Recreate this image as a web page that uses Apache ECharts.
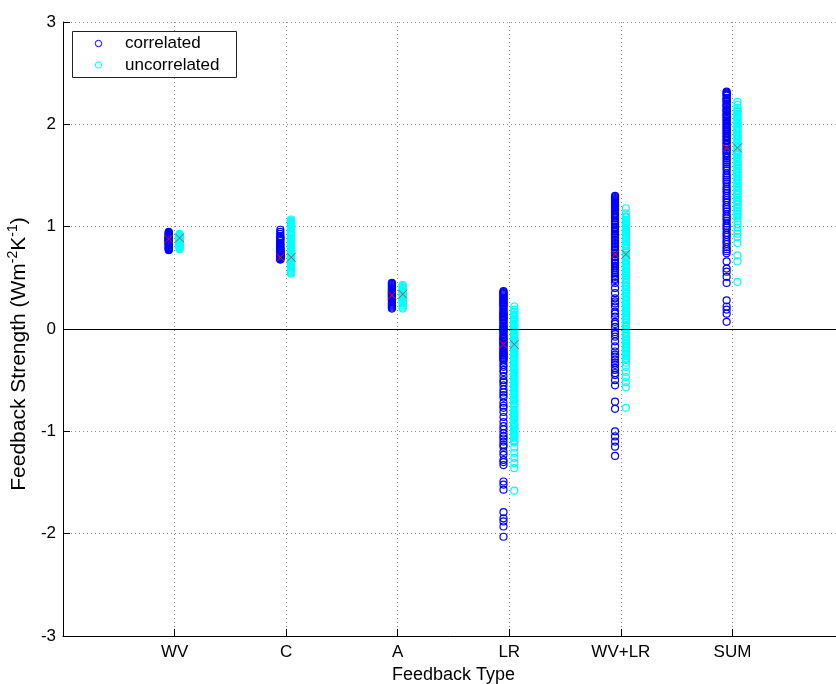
<!DOCTYPE html>
<html>
<head>
<meta charset="utf-8">
<script src="https://cdn.jsdelivr.net/npm/echarts@6/dist/echarts.min.js"></script>
<style>
  html, body { margin: 0; padding: 0; background: #fff; }
  #chart { width: 836px; height: 684px; }
</style>
</head>
<body>
<div id="chart"></div>
<script>
// Feedback types along the x axis
const CATEGORIES = ['WV', 'C', 'A', 'LR', 'WV+LR', 'SUM'];
const Y_TICKS = [-3, -2, -1, 0, 1, 2, 3];

// Correlated ensemble (Wm-2K-1), one list per feedback type
const WV_CORR = [0.95,0.94,0.94,0.93,0.92,0.92,0.91,0.91,0.90,0.90,0.89,0.89,0.89,0.88,0.88,0.88,0.87,0.87,0.87,0.86,0.86,0.86,0.85,0.85,0.84,0.84,0.83,0.83,0.82,0.82,0.81,0.80,0.80,0.79,0.78,0.78,0.77];
const C_CORR = [0.97,0.95,0.93,0.91,0.90,0.89,0.88,0.87,0.86,0.84,0.83,0.82,0.81,0.80,0.79,0.78,0.78,0.77,0.77,0.76,0.76,0.75,0.75,0.74,0.74,0.73,0.73,0.73,0.72,0.72,0.72,0.71,0.71,0.71,0.70,0.70,0.70,0.69,0.69,0.69,0.68,0.68];
const A_CORR = [0.45,0.44,0.43,0.42,0.41,0.40,0.39,0.38,0.37,0.37,0.36,0.35,0.35,0.34,0.33,0.33,0.32,0.31,0.31,0.30,0.29,0.28,0.27,0.26,0.25,0.24,0.23,0.22,0.21,0.20];
const LR_CORR = [0.37,0.36,0.35,0.34,0.33,0.32,0.31,0.30,0.29,0.28,0.27,0.26,0.25,0.24,0.23,0.22,0.20,0.19,0.17,0.16,0.15,0.14,0.13,0.12,0.11,0.10,0.09,0.08,0.06,0.05,0.03,0.02,0.01,0.00,-0.01,-0.02,-0.03,-0.05,-0.06,-0.08,-0.09,-0.10,-0.11,-0.12,-0.13,-0.14,-0.15,-0.16,-0.18,-0.19,-0.21,-0.22,-0.23,-0.24,-0.25,-0.26,-0.27,-0.28,-0.29,-0.30,-0.32,-0.35,-0.37,-0.40,-0.42,-0.46,-0.50,-0.52,-0.55,-0.59,-0.62,-0.645,-0.67,-0.72,-0.75,-0.77,-0.81,-0.86,-0.91,-0.95,-0.98,-1.02,-1.05,-1.07,-1.10,-1.13,-1.15,-1.20,-1.23,-1.28,-1.30,-1.33,-1.49,-1.52,-1.57,-1.79,-1.85,-1.88,-1.93,-2.03];
const WVLR_CORR = [1.30,1.29,1.28,1.27,1.26,1.25,1.24,1.23,1.22,1.21,1.20,1.19,1.18,1.17,1.16,1.15,1.13,1.12,1.11,1.09,1.08,1.06,1.05,1.04,1.02,1.00,0.99,0.97,0.96,0.95,0.93,0.92,0.91,0.89,0.87,0.86,0.84,0.83,0.81,0.80,0.78,0.77,0.75,0.74,0.73,0.71,0.70,0.68,0.67,0.65,0.64,0.62,0.60,0.58,0.57,0.55,0.53,0.51,0.49,0.48,0.45,0.40,0.35,0.30,0.27,0.25,0.22,0.17,0.15,0.12,0.07,0.05,0.02,-0.03,-0.05,-0.075,-0.12,-0.17,-0.22,-0.25,-0.27,-0.30,-0.33,-0.35,-0.38,-0.40,-0.43,-0.45,-0.50,-0.55,-0.71,-0.78,-1.00,-1.05,-1.10,-1.15,-1.24];
const SUM_CORR = [2.32,2.31,2.30,2.29,2.28,2.26,2.25,2.24,2.23,2.22,2.20,2.19,2.18,2.17,2.15,2.14,2.13,2.12,2.10,2.09,2.08,2.07,2.05,2.04,2.03,2.01,2.00,1.99,1.97,1.96,1.95,1.93,1.92,1.91,1.89,1.88,1.87,1.85,1.84,1.82,1.81,1.80,1.78,1.77,1.75,1.74,1.72,1.71,1.69,1.67,1.65,1.63,1.61,1.59,1.57,1.55,1.52,1.50,1.48,1.46,1.44,1.42,1.39,1.37,1.35,1.33,1.30,1.28,1.26,1.24,1.21,1.19,1.17,1.15,1.12,1.10,1.08,1.06,1.03,1.01,0.99,0.97,0.94,0.92,0.90,0.87,0.85,0.83,0.80,0.78,0.76,0.74,0.66,0.59,0.56,0.51,0.45,0.28,0.22,0.19,0.15,0.07];

// Uncorrelated ensemble
const WV_UNC = [0.93,0.92,0.91,0.91,0.90,0.90,0.89,0.89,0.88,0.88,0.88,0.87,0.87,0.86,0.86,0.86,0.85,0.85,0.84,0.84,0.83,0.83,0.82,0.81,0.81,0.80,0.79,0.78];
const C_UNC = [1.07,1.06,1.05,1.04,1.03,1.02,1.01,1.00,0.99,0.98,0.96,0.95,0.94,0.93,0.92,0.91,0.89,0.88,0.87,0.86,0.85,0.84,0.83,0.82,0.80,0.79,0.78,0.77,0.76,0.75,0.74,0.73,0.72,0.71,0.70,0.69,0.68,0.67,0.66,0.65,0.64,0.63,0.62,0.61,0.60,0.59,0.58,0.57,0.56,0.55,0.54];
const A_UNC = [0.43,0.42,0.41,0.40,0.39,0.38,0.37,0.37,0.36,0.35,0.35,0.34,0.33,0.33,0.32,0.31,0.30,0.29,0.28,0.27,0.26,0.25,0.23,0.21,0.20];
const LR_UNC = [0.22,0.19,0.17,0.16,0.14,0.13,0.12,0.10,0.09,0.08,0.07,0.05,0.04,0.03,0.02,0.00,-0.01,-0.02,-0.04,-0.05,-0.06,-0.07,-0.09,-0.10,-0.11,-0.12,-0.14,-0.15,-0.16,-0.17,-0.19,-0.20,-0.21,-0.23,-0.24,-0.25,-0.26,-0.28,-0.29,-0.30,-0.31,-0.33,-0.34,-0.35,-0.37,-0.38,-0.39,-0.40,-0.42,-0.43,-0.44,-0.46,-0.47,-0.48,-0.49,-0.51,-0.52,-0.53,-0.55,-0.56,-0.57,-0.58,-0.60,-0.61,-0.62,-0.64,-0.65,-0.66,-0.68,-0.69,-0.70,-0.71,-0.73,-0.74,-0.75,-0.76,-0.79,-0.80,-0.81,-0.83,-0.84,-0.85,-0.86,-0.88,-0.89,-0.92,-0.93,-0.94,-0.96,-0.97,-0.98,-0.99,-1.01,-1.02,-1.03,-1.05,-1.06,-1.07,-1.09,-1.10,-1.11,-1.16,-1.21,-1.26,-1.31,-1.36,-1.58];
const WVLR_UNC = [1.18,1.13,1.10,1.09,1.07,1.06,1.05,1.03,1.02,1.01,0.99,0.98,0.97,0.95,0.94,0.93,0.91,0.90,0.89,0.87,0.86,0.85,0.83,0.82,0.81,0.79,0.78,0.76,0.75,0.74,0.72,0.71,0.70,0.68,0.67,0.66,0.64,0.63,0.61,0.60,0.59,0.57,0.56,0.55,0.53,0.52,0.50,0.49,0.48,0.46,0.45,0.43,0.42,0.41,0.39,0.38,0.36,0.35,0.34,0.32,0.31,0.30,0.28,0.27,0.25,0.24,0.23,0.21,0.20,0.18,0.17,0.16,0.14,0.13,0.11,0.10,0.09,0.07,0.06,0.04,0.03,0.02,0.00,-0.01,-0.03,-0.04,-0.05,-0.07,-0.08,-0.10,-0.11,-0.12,-0.14,-0.15,-0.17,-0.18,-0.19,-0.21,-0.22,-0.24,-0.25,-0.26,-0.28,-0.29,-0.30,-0.33,-0.37,-0.42,-0.47,-0.52,-0.57,-0.77];
const SUM_UNC = [2.22,2.19,2.16,2.14,2.13,2.12,2.10,2.09,2.08,2.06,2.05,2.04,2.02,2.01,2.00,1.98,1.97,1.96,1.94,1.93,1.92,1.90,1.89,1.88,1.86,1.85,1.83,1.82,1.81,1.79,1.78,1.77,1.75,1.74,1.72,1.71,1.70,1.68,1.67,1.66,1.64,1.63,1.61,1.60,1.59,1.57,1.56,1.54,1.53,1.52,1.50,1.49,1.47,1.46,1.45,1.43,1.42,1.40,1.39,1.38,1.36,1.35,1.33,1.32,1.31,1.29,1.28,1.26,1.25,1.24,1.22,1.21,1.19,1.18,1.16,1.15,1.13,1.12,1.10,1.08,1.05,1.02,0.99,0.96,0.93,0.90,0.84,0.72,0.66,0.46];

// Ensemble means per feedback type
const CORR_MEAN = [0.88, 0.70, 0.33, -0.15, 0.73, 1.77];
const UNC_MEAN  = [0.89, 0.70, 0.34, -0.15, 0.73, 1.77];

const CORR_GROUPS = [WV_CORR, C_CORR, A_CORR, LR_CORR, WVLR_CORR, SUM_CORR];
const UNC_GROUPS  = [WV_UNC, C_UNC, A_UNC, LR_UNC, WVLR_UNC, SUM_UNC];

// side-by-side placement of the two ensembles around each category
const CORR_SHIFT = -0.052;
const UNC_SHIFT = 0.045;

function columns(groups, shift) {
  const pts = [];
  groups.forEach((vals, i) => vals.forEach(v => pts.push([i + 1 + shift, v])));
  return pts;
}
function means(vals, shift) {
  return vals.map((v, i) => [i + 1 + shift, v]);
}

const FONT = '"Liberation Sans", Arial, Helvetica, sans-serif';
const CROSS = 'path://M0,0L10,10M10,0L0,10';

const chart = echarts.init(document.getElementById('chart'), null, { renderer: 'canvas' });

chart.setOption({
  backgroundColor: '#ffffff',
  animation: false,
  grid: { left: 63, top: 22, width: 781, height: 614, containLabel: false, outerBoundsMode: 'none' },
  xAxis: {
    type: 'value',
    min: 0, max: CATEGORIES.length + 1, interval: 1,
    name: 'Feedback Type',
    nameLocation: 'middle',
    nameGap: 29,
    nameTextStyle: { fontFamily: FONT, fontSize: 18, color: '#000' },
    axisLine: { onZero: false, lineStyle: { color: '#000', width: 1 } },
    axisTick: { inside: true, length: 7, lineStyle: { color: '#000' } },
    axisLabel: {
      fontFamily: FONT, fontSize: 17, color: '#000', margin: 8,
      formatter: v => CATEGORIES[v - 1] || ''
    },
    splitLine: { show: true, lineStyle: { color: '#8c8c8c', type: [1, 3], width: 1 } }
  },
  yAxis: {
    type: 'value',
    min: Y_TICKS[0], max: Y_TICKS[Y_TICKS.length - 1], interval: 1,
    name: '{t|Feedback Strength (Wm}{s|-2}{t|K}{s|-1}{t|)}',
    nameLocation: 'middle',
    nameRotate: 90,
    nameGap: 25,
    nameTextStyle: {
      padding: [0, 50, 0, 0],
      rich: {
        t: { fontFamily: FONT, fontSize: 21, color: '#000', lineHeight: 24, verticalAlign: 'bottom' },
        s: { fontFamily: FONT, fontSize: 14, color: '#000', verticalAlign: 'top' }
      }
    },
    axisLine: { lineStyle: { color: '#000', width: 1 } },
    axisTick: { inside: true, length: 7, lineStyle: { color: '#000' } },
    axisLabel: { fontFamily: FONT, fontSize: 17, color: '#000', margin: 7 },
    splitLine: { show: true, lineStyle: { color: '#8c8c8c', type: [1, 3], width: 1 } }
  },
  graphic: [
    { type: 'rect', left: 72, top: 31, z: 100,
      shape: { width: 164, height: 46 },
      style: { fill: '#fff', stroke: '#222', lineWidth: 1 } },
    { type: 'circle', z: 101, shape: { cx: 98.5, cy: 43.5, r: 3.2 },
      style: { fill: 'none', stroke: '#0000ff', lineWidth: 1 } },
    { type: 'circle', z: 101, shape: { cx: 98.5, cy: 65, r: 3.2 },
      style: { fill: 'none', stroke: '#00ffff', lineWidth: 1 } },
    { type: 'text', z: 101, x: 125, y: 43.5,
      style: { text: 'correlated', font: '17px ' + FONT, fill: '#000', verticalAlign: 'middle' } },
    { type: 'text', z: 101, x: 125, y: 65,
      style: { text: 'uncorrelated', font: '17px ' + FONT, fill: '#000', verticalAlign: 'middle' } }
  ],
  series: [
    {
      name: 'correlated', type: 'scatter', z: 2,
      data: columns(CORR_GROUPS, CORR_SHIFT),
      symbol: 'circle', symbolSize: 7,
      itemStyle: { color: 'rgba(0,0,0,0)', borderColor: '#0000ff', borderWidth: 1.2, opacity: 1 },
      emphasis: { disabled: true }, silent: true
    },
    {
      name: 'uncorrelated', type: 'scatter', z: 3,
      data: columns(UNC_GROUPS, UNC_SHIFT),
      symbol: 'circle', symbolSize: 7,
      itemStyle: { color: 'rgba(0,0,0,0)', borderColor: '#00ffff', borderWidth: 1.2, opacity: 1 },
      emphasis: { disabled: true }, silent: true
    },
    {
      name: 'correlated mean', type: 'scatter', z: 4,
      data: means(CORR_MEAN, CORR_SHIFT),
      symbol: CROSS, symbolSize: 8,
      itemStyle: { color: 'none', borderColor: '#ff0000', borderWidth: 1, opacity: 1 },
      emphasis: { disabled: true }, silent: true
    },
    {
      name: 'uncorrelated mean', type: 'scatter', z: 4,
      data: means(UNC_MEAN, UNC_SHIFT),
      symbol: CROSS, symbolSize: 9,
      itemStyle: { color: 'none', borderColor: '#a05050', borderWidth: 1, opacity: 1 },
      emphasis: { disabled: true }, silent: true,
      markLine: {
        silent: true, symbol: 'none',
        label: { show: false },
        lineStyle: { color: '#000', type: 'solid', width: 1 },
        data: [{ yAxis: 0 }]
      }
    }
  ]
});
</script>
</body>
</html>
